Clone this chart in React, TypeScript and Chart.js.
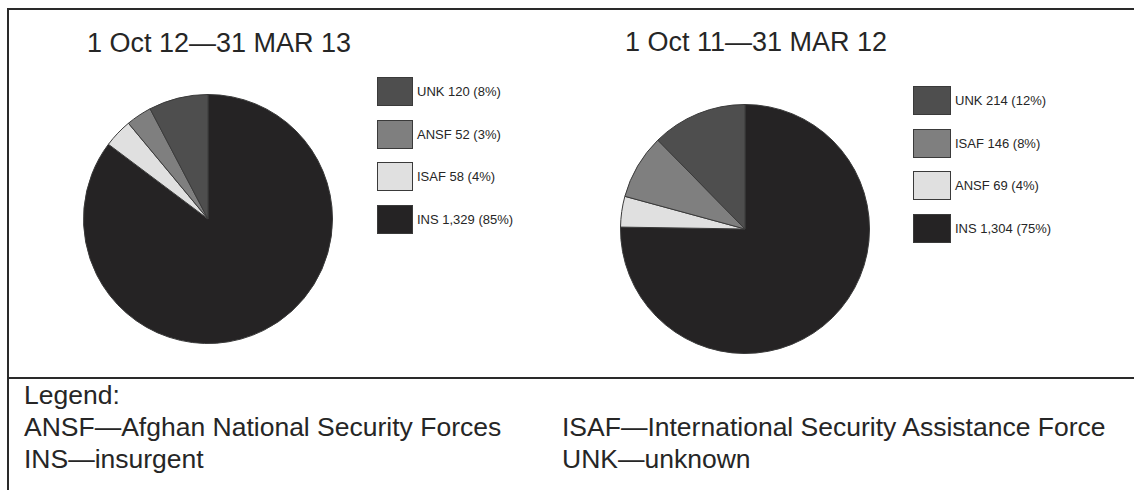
import React, { useEffect, useRef } from "react";
import { Chart, registerables } from "chart.js";

Chart.register(...registerables);

// Slices in clockwise order from 12 o'clock
const leftTitle = "1 Oct 12\u201431 MAR 13";
const leftLabels = ["INS", "ISAF", "ANSF", "UNK"];
const leftValues = [1329, 58, 52, 120];
const leftPercents = [85, 4, 3, 8];

const rightTitle = "1 Oct 11\u201431 MAR 12";
const rightLabels = ["INS", "ANSF", "ISAF", "UNK"];
const rightValues = [1304, 69, 146, 214];
const rightPercents = [75, 4, 8, 12];

const sliceColors = ["#252324", "#e0e0e0", "#7f7f7f", "#4e4e4e"];

const glossaryLeft = [
  "ANSF\u2014Afghan National Security Forces",
  "INS\u2014insurgent",
];
const glossaryRight = [
  "ISAF\u2014International Security Assistance Force",
  "UNK\u2014unknown",
];

const FONT = "'Liberation Sans', Arial, Helvetica, sans-serif";
const TEXT = "#262626";
const LINE = "#2a2a2a";

function Pie({ labels, values, left, top, size }: { labels: string[]; values: number[]; left: number; top: number; size: number }) {
  const ref = useRef<HTMLCanvasElement | null>(null);
  useEffect(() => {
    if (!ref.current) return;
    const chart = new Chart(ref.current, {
      type: "pie",
      data: {
        labels,
        datasets: [
          {
            data: values,
            backgroundColor: sliceColors,
            borderColor: "#3a3a3a",
            borderWidth: 1,
          },
        ],
      },
      options: {
        responsive: false,
        animation: false,
        layout: { padding: 0 },
        plugins: { legend: { display: false }, tooltip: { enabled: false } },
      },
    });
    return () => chart.destroy();
  }, []);
  return (
    <canvas
      ref={ref}
      width={size}
      height={size}
      style={{ position: "absolute", left, top, width: size, height: size }}
    />
  );
}

function Legend({ labels, values, percents, left, top, boxW, step }: { labels: string[]; values: number[]; percents: number[]; left: number; top: number; boxW: number; step: number }) {
  const idx = labels.map((_, i) => i).reverse();
  return (
    <>
      {idx.map((i, k) => (
        <div
          key={k}
          style={{
            position: "absolute",
            left,
            top: top + k * step,
            height: 29,
            display: "flex",
            alignItems: "center",
            whiteSpace: "nowrap",
          }}
        >
          <div
            style={{
              width: boxW,
              height: 29,
              boxSizing: "border-box",
              border: "1px solid #3a3a3a",
              background: sliceColors[i],
            }}
          />
          <span style={{ marginLeft: 4, fontSize: 13, lineHeight: "13px", color: TEXT, fontFamily: FONT }}>
            {`${labels[i]} ${values[i].toLocaleString("en-US")} (${percents[i]}%)`}
          </span>
        </div>
      ))}
    </>
  );
}

export default function App() {
  const titleStyle = (left: number, top: number): React.CSSProperties => ({
    position: "absolute",
    left,
    top,
    fontSize: 27,
    lineHeight: "27px",
    fontFamily: FONT,
    color: TEXT,
    whiteSpace: "nowrap",
  });
  const g = 26.5;
  const gStyle = (left: number, baseline: number): React.CSSProperties => ({
    position: "absolute",
    left,
    top: baseline - 0.8465 * g,
    fontSize: g,
    lineHeight: `${g}px`,
    fontFamily: FONT,
    color: TEXT,
    whiteSpace: "nowrap",
  });
  return (
    <div style={{ position: "absolute", left: 0, top: 0, width: 1134, height: 490, background: "#fff", overflow: "hidden" }}>
      {/* frame */}
      <div style={{ position: "absolute", left: 7, top: 8, width: 1127, height: 2, background: LINE }} />
      <div style={{ position: "absolute", left: 7, top: 8, width: 2, height: 482, background: LINE }} />
      <div style={{ position: "absolute", left: 7, top: 377, width: 1127, height: 2, background: LINE }} />

      <div style={titleStyle(87, 30)}>{leftTitle}</div>
      <div style={titleStyle(625, 29)}>{rightTitle}</div>

      <Pie labels={leftLabels} values={leftValues} left={82.5} top={94} size={250} />
      <Pie labels={rightLabels} values={rightValues} left={619.5} top={103.5} size={250} />

      <Legend labels={leftLabels} values={leftValues} percents={leftPercents} left={377} top={77} boxW={36} step={42.5} />
      <Legend labels={rightLabels} values={rightValues} percents={rightPercents} left={913} top={86} boxW={38} step={42.5} />

      <div style={gStyle(24, 404)}>Legend:</div>
      <div style={gStyle(24, 436)}>{glossaryLeft[0]}</div>
      <div style={gStyle(24, 468)}>{glossaryLeft[1]}</div>
      <div style={gStyle(562, 436)}>{glossaryRight[0]}</div>
      <div style={gStyle(562, 468)}>{glossaryRight[1]}</div>
    </div>
  );
}
